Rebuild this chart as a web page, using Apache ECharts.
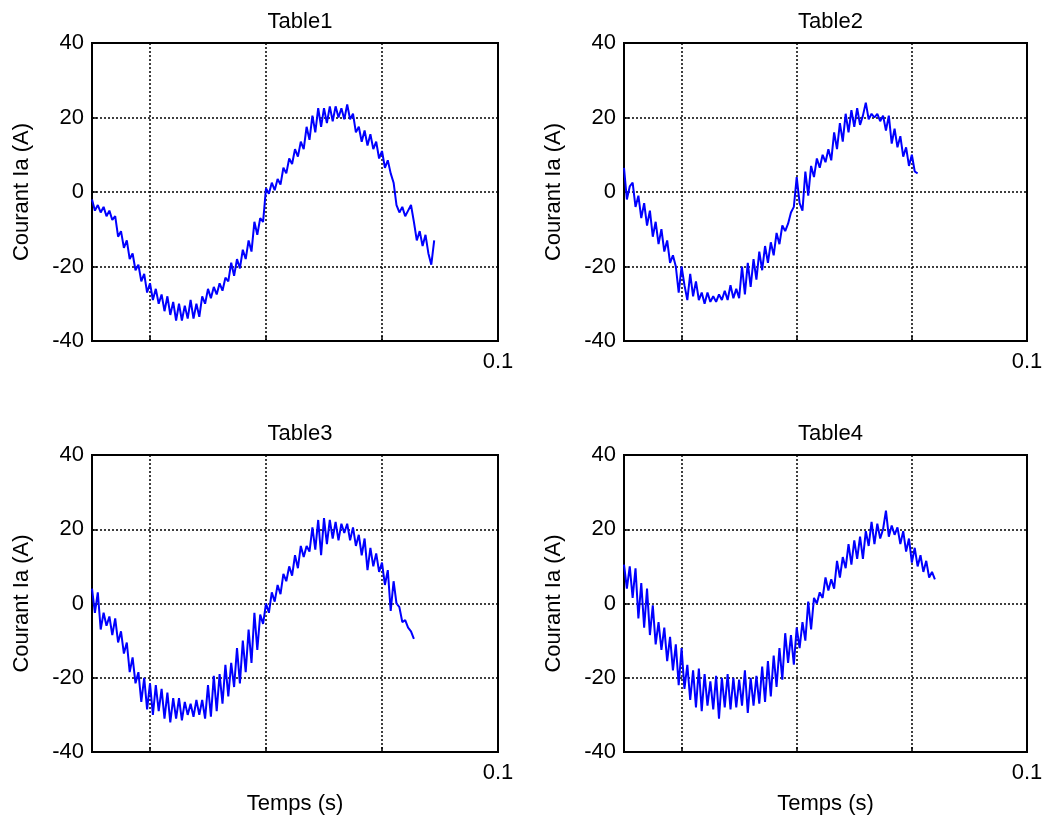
<!DOCTYPE html>
<html>
<head>
<meta charset="utf-8">
<title>Courant Ia</title>
<script src="https://cdn.jsdelivr.net/npm/echarts@6/dist/echarts.min.js"></script>
<style>
  html, body { margin: 0; padding: 0; background: #fff; }
  #chart { width: 1049px; height: 821px; }
</style>
</head>
<body>
<div id="chart"></div>
<script>
// Phase current samples (A), one sample every DT seconds starting at T0
const T0 = 0.03;
const DT = 0.0005;

const titles = ['Table1', 'Table2', 'Table3', 'Table4'];

const table1 = [
  -2, -5, -3.5, -5.5, -4, -6.5, -5, -7.5, -6.5, -12,
  -10.5, -15, -13, -18, -16.5, -21, -19.5, -24, -22, -27,
  -24.5, -29, -26, -30, -27.5, -32, -28, -33, -29.5, -34.5,
  -30, -34.5, -30.5, -34, -29, -34, -30, -33.5, -28, -30,
  -26, -28.5, -25.5, -27.5, -24.5, -26.5, -23, -24, -19, -22.5,
  -18, -20.5, -15.5, -18, -13, -16, -8, -11.5, -7, -8,
  1, -0.5, 2.5, 0.5, 3.5, 2, 6.5, 5, 9, 7.5,
  11.5, 9.5, 13.5, 11.5, 17.5, 14, 20.5, 16, 22.5, 17.5,
  22.5, 18.5, 23, 19, 23, 20, 22.5, 19.5, 23.5, 19.5,
  21, 16, 17.5, 13.5, 16.5, 12.5, 15.5, 11.5, 13.5, 9,
  11, 6.5, 8.5, 5, 2.5, -3.5, -5.5, -4, -6.5, -5,
  -3.5, -8, -13, -10.5, -14.5, -11.5, -16.5, -19.5, -13
];

const table2 = [
  6.5, -2, 1.5, 2.5, -4, -1, -7, -3, -9, -5,
  -12, -8, -14, -10, -16, -13, -19, -17, -20, -27,
  -20, -25, -29, -22, -28, -24, -29, -27, -30, -27,
  -29.5, -28, -29.5, -27.5, -29, -26.5, -29, -25, -28.5, -26,
  -28.5, -20, -27.5, -19, -25.5, -18, -23.5, -16, -21, -14.5,
  -19, -13.5, -17, -11, -14, -9, -10.5, -8.5, -5.5, -4,
  4, -3, -5, 5.5, -1, 7, 4, 9, 6.5, 10,
  8, 11.5, 8.5, 16, 11.5, 18.5, 13.5, 21, 16, 22,
  17.5, 22.5, 18, 20.5, 24, 19.5, 21, 20, 21, 19,
  20.5, 16.5, 20.5, 13, 17, 12, 15, 9.5, 12, 7,
  10, 5.5, 5
];

const table3 = [
  4, -2.5, 3, -7, -2.5, -6, -3.5, -8.5, -4, -10.5,
  -7.5, -13.5, -10.5, -18.5, -14.5, -21.5, -18.5, -26.5, -20, -28.5,
  -21.5, -30, -22, -29, -23, -31, -24, -32, -25.5, -31,
  -25.5, -31.5, -26.5, -30, -27, -30.5, -26, -30, -26, -31,
  -22, -30.5, -19.5, -29, -19, -27, -16.5, -25, -16, -22.5,
  -12, -21.5, -10, -18.5, -7, -16, -2.5, -12.5, -3, -5.5,
  0, -2.5, 3, 0.5, 5, 2.5, 8, 6, 10, 7.5,
  13, 9.5, 15.5, 12.5, 15.5, 14, 20.5, 14.5, 22.5, 13,
  23, 16, 22.5, 17.5, 22, 17, 21.5, 19, 21.5, 17,
  20.5, 15.5, 18.5, 13, 17.5, 9, 15, 10, 13.5, 8.5,
  11, 5, 9, -2, 6, 0, -1, -5, -4.5, -6.5,
  -7.5, -9.5
];

const table4 = [
  10.5, 4, 10, 1.5, 9.5, -4, 5.5, -6.5, 4, -8.5,
  -0.5, -11, -5, -12.5, -6.5, -15.5, -9, -18, -11, -22,
  -12, -23, -16.5, -26, -18, -28, -17.5, -29, -19, -27.5,
  -21, -28.5, -19.5, -31, -20, -28, -19, -28.5, -20, -28,
  -20.5, -27.5, -18, -29.5, -20, -27.5, -19.5, -27, -17, -26.5,
  -15.5, -25, -14, -22.5, -12, -20.5, -8, -16, -8.5, -16.5,
  -6.5, -12, -5, -10, 0.5, -7, 1.5, 0, 3, 1.5,
  7, 3.5, 6.5, 4, 11.5, 7, 12.5, 9.5, 16, 10.5,
  17, 12, 18, 12, 19.5, 15.5, 22, 16, 21.5, 17.5,
  20, 25, 18, 21, 18.5, 20.5, 16, 19.5, 14, 17.5,
  11, 15, 10, 13, 8.5, 11.5, 7, 8.5, 6.5
];

const tables = [table1, table2, table3, table4];

// Axis ranges and tick positions
const X_MIN = 0.03, X_MAX = 0.1;
const X_GRID = [0.04, 0.06, 0.08, 0.1];
const X_LABELS = [0.1];
const Y_MIN = -40, Y_MAX = 40, Y_STEP = 20;

const FONT = '"Liberation Sans", Arial, Helvetica, sans-serif';

// Panel boxes (px)
const boxes = [
  { left: 92,  top: 43,  width: 406, height: 298 },
  { left: 624, top: 43,  width: 403, height: 298 },
  { left: 92,  top: 455, width: 406, height: 297 },
  { left: 624, top: 455, width: 403, height: 297 }
];

function toPairs(values) {
  return values.map((v, i) => [+(T0 + i * DT).toFixed(5), v]);
}

const dotted = { color: '#000', width: 1.5, type: [2, 2] };

const option = {
  backgroundColor: '#fff',
  animation: false,
  textStyle: { fontFamily: FONT },
  title: titles.map((t, k) => ({
    text: t,
    left: boxes[k].left + boxes[k].width / 2,
    top: boxes[k].top - 37,
    textAlign: 'center',
    textStyle: { fontFamily: FONT, fontSize: 22, fontWeight: 'normal', color: '#000' }
  })),
  grid: boxes.map(b => ({
    left: b.left, top: b.top, width: b.width, height: b.height,
    show: true, borderColor: '#000', borderWidth: 2, backgroundColor: 'transparent',
    containLabel: false
  })),
  xAxis: boxes.map((b, k) => ({
    type: 'value',
    gridIndex: k,
    min: X_MIN,
    max: X_MAX,
    interval: 0.01,
    name: k >= 2 ? 'Temps (s)' : '',
    nameLocation: 'middle',
    nameGap: 41,
    nameTextStyle: { fontFamily: FONT, fontSize: 22, color: '#000' },
    axisLine: { show: true, onZero: false, lineStyle: { color: '#000', width: 2 } },
    axisTick: { show: true, inside: true, length: 5, customValues: X_GRID, lineStyle: { color: '#000', width: 1.5 } },
    axisLabel: {
      show: true, customValues: X_LABELS, margin: 10,
      fontFamily: FONT, fontSize: 22, color: '#000',
      formatter: v => String(v)
    },
    splitLine: { show: true, lineStyle: dotted }
  })),
  yAxis: boxes.map((b, k) => ({
    type: 'value',
    gridIndex: k,
    min: Y_MIN,
    max: Y_MAX,
    interval: Y_STEP,
    name: 'Courant Ia (A)',
    nameLocation: 'middle',
    nameRotate: 90,
    nameGap: 59,
    nameTextStyle: { fontFamily: FONT, fontSize: 22, color: '#000' },
    axisLine: { show: true, onZero: false, lineStyle: { color: '#000', width: 2 } },
    axisTick: { show: true, inside: true, length: 5, lineStyle: { color: '#000', width: 1.5 } },
    axisLabel: { fontFamily: FONT, fontSize: 22, color: '#000', margin: 8 },
    splitLine: { show: true, lineStyle: dotted }
  })),
  series: tables.map((vals, k) => ({
    type: 'line',
    name: titles[k],
    xAxisIndex: k,
    yAxisIndex: k,
    data: toPairs(vals),
    showSymbol: false,
    symbol: 'none',
    smooth: false,
    lineStyle: { color: '#0000ff', width: 2 },
    z: 3
  }))
};

const chart = echarts.init(document.getElementById('chart'), null, { renderer: 'canvas' });
chart.setOption(option);
</script>
</body>
</html>
